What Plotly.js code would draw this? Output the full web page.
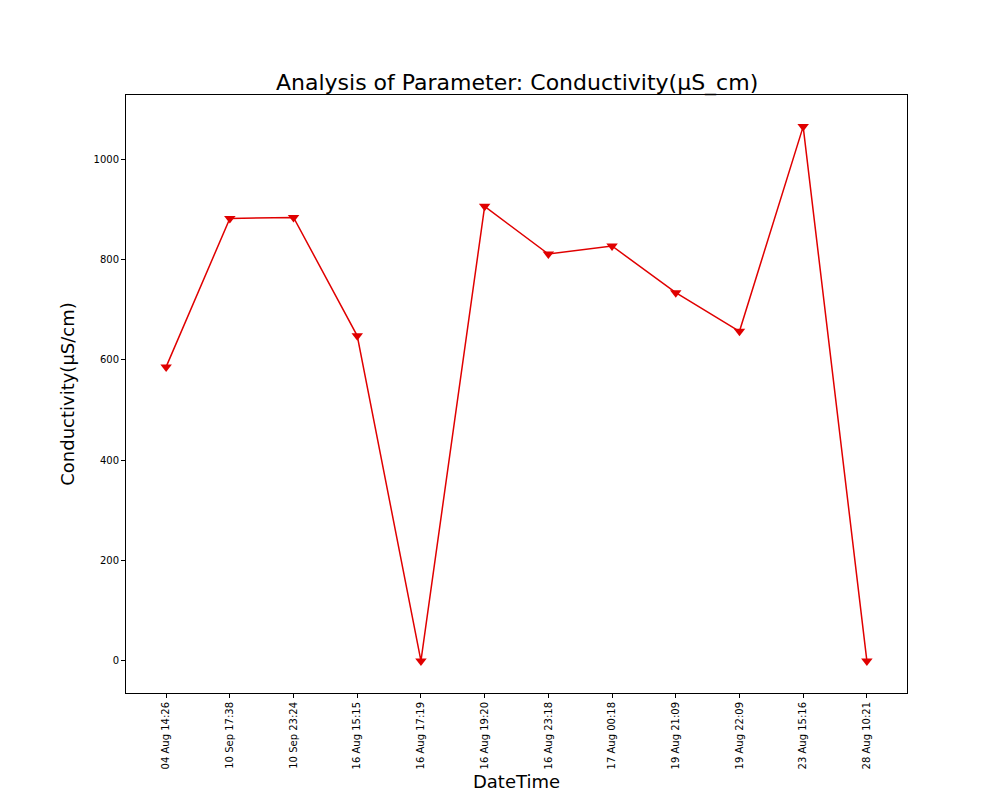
<!DOCTYPE html>
<html>
<head>
<meta charset="utf-8">
<script src="https://cdn.plot.ly/plotly-3.0.1.min.js"></script>
<style>body{margin:0;background:#fff}</style>
</head>
<body>
<div id="myDiv" style="width:1008px;height:792px"></div>
<script>
var dates = ['04 Aug 14:26', '10 Sep 17:38', '10 Sep 23:24', '16 Aug 15:15', '16 Aug 17:19', '16 Aug 19:20',
             '16 Aug 23:18', '17 Aug 00:18', '19 Aug 21:09', '19 Aug 22:09', '23 Aug 15:16', '28 Aug 10:21'];
var conductivity = [586, 882, 884, 648, 0, 906, 811, 827, 734, 657, 1065, 0];

var trace = {
    x: dates,
    y: conductivity,
    mode: 'lines+markers',
    type: 'scatter',
    line: {color: '#e00000', width: 1.5},
    marker: {symbol: 'triangle-down', size: 10, color: '#e00000'}
};

var axisStyle = {
    showline: true, mirror: true, linecolor: '#000', linewidth: 1,
    ticks: 'outside', ticklen: 4, tickcolor: '#000',
    showgrid: false, zeroline: false, automargin: false,
    tickfont: {size: 10, color: '#000'}
};

var layout = {
    width: 1008, height: 792,
    font: {family: 'DejaVu Sans', color: '#000'},
    margin: {l: 126, r: 101, t: 95, b: 99},
    showlegend: false,
    paper_bgcolor: '#fff', plot_bgcolor: '#fff',
    title: {text: 'Analysis of Parameter: Conductivity(µS_cm)', font: {size: 22}, x: 0.513, xanchor: 'center', y: 0.896, yanchor: 'middle'},
    xaxis: Object.assign({}, axisStyle, {
        type: 'category', range: [-0.63, 11.63], tickangle: -90,
        title: {text: 'DateTime', font: {size: 18}, standoff: 8}
    }),
    yaxis: Object.assign({}, axisStyle, {
        range: [-64, 1128], tickvals: [0, 200, 400, 600, 800, 1000],
        title: {text: 'Conductivity(µS/cm)', font: {size: 18}, standoff: 14}
    })
};

Plotly.newPlot('myDiv', [trace], layout, {displayModeBar: false});
</script>
</body>
</html>
